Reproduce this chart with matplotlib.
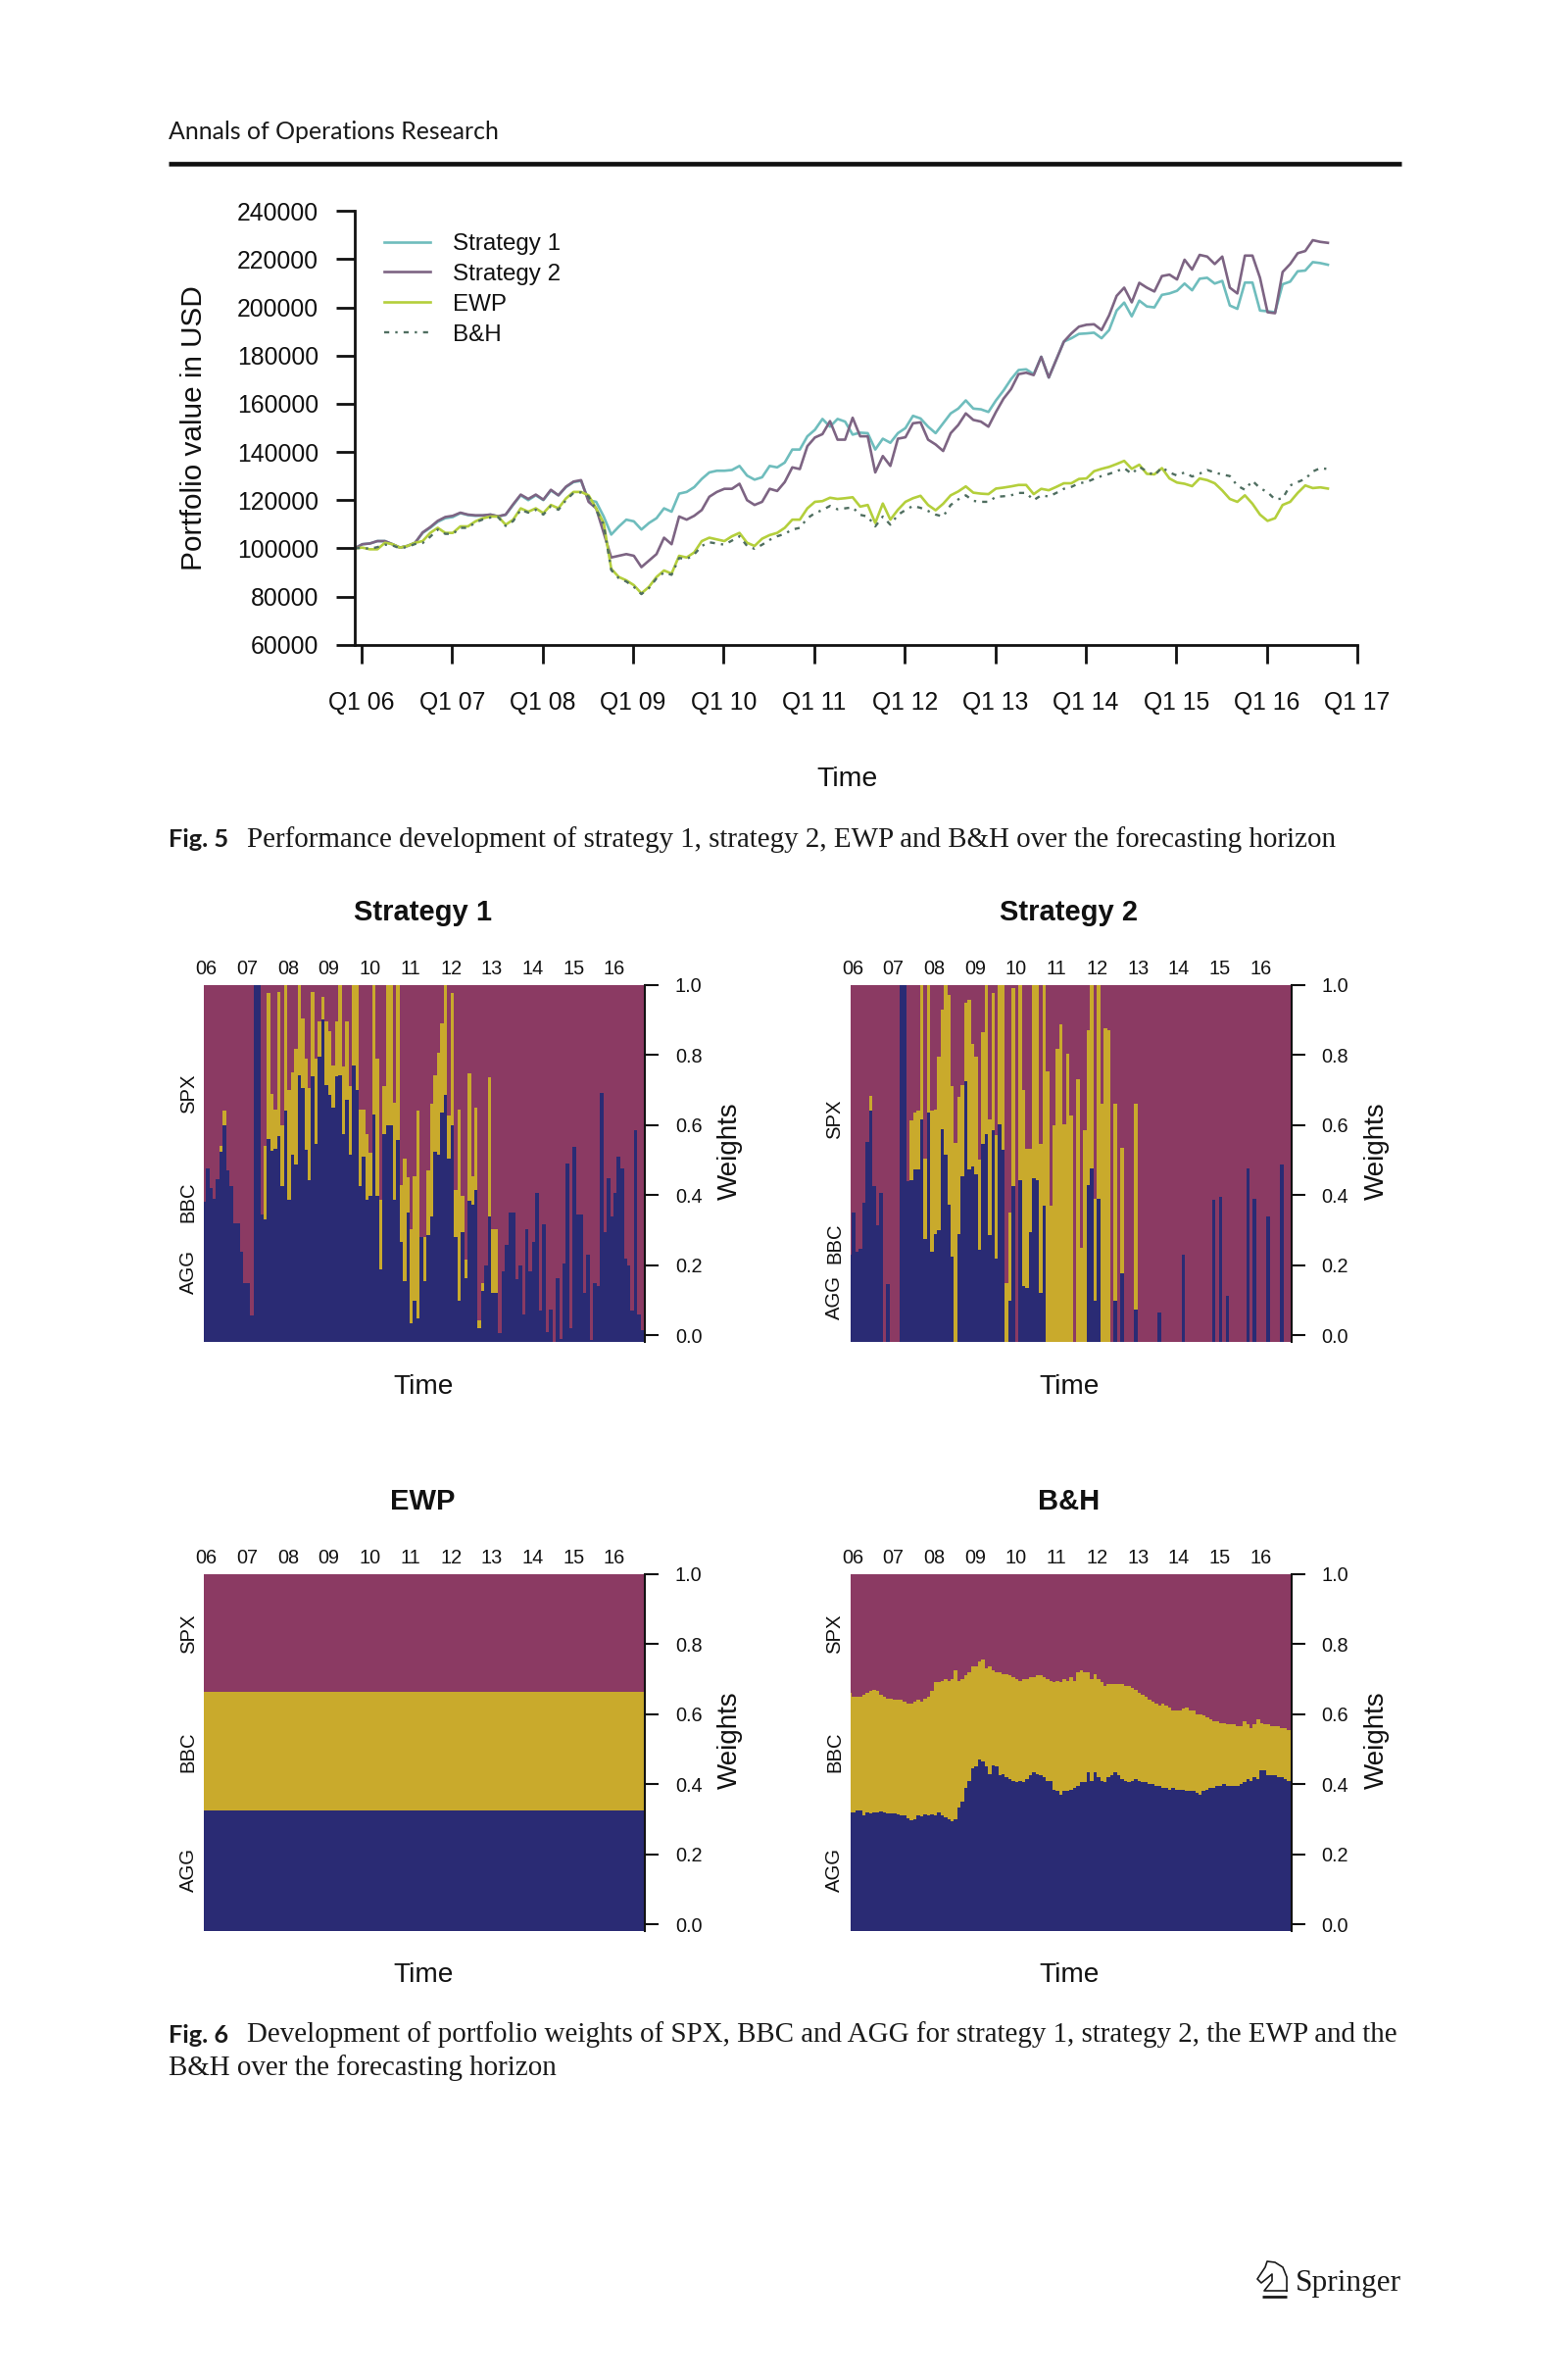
import numpy as np
import matplotlib
matplotlib.use("Agg")
import matplotlib.pyplot as plt
from matplotlib.lines import Line2D

W, H = 1600, 2426
plt.rcParams['font.family'] = ['Liberation Sans', 'DejaVu Sans']

# Portfolio values, thousands of USD, monthly
STRATEGY_1 = [
 100,101.7,102,103,103,101.7,100.3,101,102.3,106.4,
 108.5,111,112.5,113,114.6,113.8,113.5,113.6,114,113.2,
 113.9,118,122,120,122,120,124,122,125.4,127.5,
 128,120,119.3,113.2,105.7,109,111.9,111.2,107.8,110.5,
 112.5,116.6,115.2,122.7,123.4,125.4,128.8,131.5,132.2,132.2,
 132.5,134.2,130.2,128.5,129.5,134.2,133.6,135.6,141,141,
 146.5,149.2,153.7,150.5,153.7,152.6,147.2,148,147.8,141,
 145.5,143.8,147.8,149.9,155,153.9,150.5,147.8,151.9,156,
 158,161.4,158,157.7,156.6,161.4,165.5,170.2,174,174.3,
 172.3,179.5,170.9,178.4,185.8,187.2,189,189.2,189.5,187.2,
 190.6,198.7,202,196.3,202.8,200.4,200,205.2,205.8,206.9,
 209.9,207.1,211.9,212.3,209.9,211,200.8,199.4,210.3,210.3,
 198.7,198.4,198,209.6,210.7,215,215.3,218.8,218.4,217.7]
STRATEGY_2 = [
 100,101.7,102,103,103,101.7,100.3,101,102.3,106.6,
 108.8,111.4,113,113.5,114.8,114,113.7,113.7,114,113.3,
 114,118.3,122.3,120.5,122.3,120.2,124.3,122,125.6,127.7,
 128.3,119.3,116.6,106.4,96.2,96.9,97.6,96.9,92.2,94.9,
 97.6,104.4,101.7,113.2,111.9,113.5,115.9,121.4,123.4,124.7,
 124.7,126.8,120,118,119.3,124.7,123.8,127.5,133.6,132.9,
 142.4,146,147.4,152.8,145.1,145.1,154.2,146.5,146.5,131.5,
 138.3,134.2,145.5,146.1,151.9,152.3,145.1,143.1,140.4,147.8,
 151.2,156,153.3,152.6,150.5,156.6,162.1,166.1,172.3,172.9,
 171.9,179.5,170.9,178.4,185.8,189.2,192,192.8,193,190.6,
 196.7,204.8,208.2,202.1,210.2,208.2,206.6,213,213.6,211.6,
 219.8,215.7,221.8,221.1,218,221.1,208.2,205.8,221.5,221.5,
 212.3,198,197.6,214.7,218,222.5,223.4,227.9,227.2,226.8]
EWP = [
 100,100.3,99.6,99.6,102.3,101.7,100.3,101,102.3,103,
 106.4,108.5,106.4,106.4,109.1,109.1,111.2,112.5,113.2,113.2,
 109.8,111.9,116.6,115.2,116.6,114.6,118,116.6,120.7,123.4,
 123.4,122,116.6,110.5,91.5,88.1,86.7,84.7,81.3,84,
 88.1,90.8,89.5,96.9,96.2,98.3,103,104.4,103.7,103,
 105,106.4,102.3,101,104,105.5,106.4,108.5,111.9,111.9,
 116.6,119.3,119.6,121,120.5,120.8,121.2,117.3,118,110.5,
 118.6,111.9,116,119.3,120.8,121.8,118,115.8,118.5,122,
 123.6,125.7,123.1,122.7,122.5,124.8,125.2,125.7,126.3,126.3,
 122.5,124.7,124.1,125.5,127,127,128.8,129,132,133,
 133.8,135,136.3,133,134.7,130.9,130.7,133.3,129,127.3,
 126.8,125.8,129,128.3,127,124,120.5,119.3,122,118.5,
 114,111.4,112.5,118,119.3,123,126.1,125,125.3,124.8]
BUY_HOLD = [
 100,100.2,99.8,100.5,101.5,101.2,100,100.6,101.8,102.2,
 104.8,107.8,106,106,108.5,108.5,110.8,112,112.8,113,
 109.3,111.3,116,114.8,116,114,117.5,116,120,123,
 123.2,121.5,116,109.8,91,87.6,86.2,84,81,83.5,
 87.5,90,89,96,95.5,97.5,101,102.5,102,101.5,
 103.2,105,101,99.8,101.5,103.5,105,106,107.8,108.5,
 112.5,114.6,115.9,117.6,116.2,116.6,117,113.9,113.2,109.1,
 113.2,109.8,113.9,115.9,117.6,116.8,115.5,114,113.2,118,
 120.3,122,119.7,119.3,119.3,121.4,121.6,122,123,123,
 120,122,121.5,123,124.7,125.5,127,127.5,128.8,130,
 130.9,132,133.3,130.9,133.8,132,130.2,133.6,131.5,130.2,
 131.5,129.8,131,132.5,131.5,130.6,130,126,124.3,128,
 125,123.3,120.3,120.7,126.1,127.5,128.8,131.9,133.3,132.9]

LINE_LABELS = ['Strategy 1', 'Strategy 2', 'EWP', 'B&H']
Y_TICKS = [60000,80000,100000,120000,140000,160000,180000,200000,220000,240000]
Q_LABELS = ['Q1 06','Q1 07','Q1 08','Q1 09','Q1 10','Q1 11','Q1 12','Q1 13','Q1 14','Q1 15','Q1 16','Q1 17']
YEAR_LABELS = ['06','07','08','09','10','11','12','13','14','15','16']
WEIGHT_TICKS = [0.0,0.2,0.4,0.6,0.8,1.0]

# Stacked weights: top of AGG, and top of AGG+BBC (the rest up to 1 is SPX)
S1_AGG = [
 .38,.477,.42,.39,.445,.525,.60,.47,.425,.32,
 .32,.24,.15,.15,.057,1,1,.345,.332,.56,
 .527,.532,.568,.425,.64,.388,.514,.486,.742,.705,
 .528,.444,.738,.546,.794,.90,.714,.686,.65,.738,
 .742,.574,.672,.514,.77,.70,.425,.51,.388,.397,
 .63,.397,.187,.574,.598,.598,.388,.556,.267,.155,
 .35,.034,.10,.048,.28,.155,.285,.34,.523,.514,
 .635,.686,.505,.60,.28,.10,.295,.164,.383,.374,
 .416,.02,.127,.20,.34,.122,.122,.006,.183,.257,
 .35,.35,.16,.20,.06,.304,.183,.267,.407,.07,
 .318,.01,.075,-.017,.164,-.01,.206,.49,.02,.537,
 .346,.346,.122,.23,-.013,.15,.14,.69,.295,.449,
 .34,.407,.51,.477,.22,.20,.07,.584,.06,.015]
S1_TOP = [
 .38,.477,.42,.39,.445,.54,.64,.47,.425,.32,
 .32,.24,.15,.15,.057,1,1,.345,.54,.975,
 .688,.645,.98,.60,1,.70,.75,.817,1,.905,
 .79,.705,.98,.79,.895,.966,.895,.868,.77,.896,
 1,.766,.896,.71,1,1,.644,.644,.574,.52,
 1,.79,.388,.71,1,1,.663,1,.43,.505,
 .45,.304,.453,.64,.28,.28,.47,.66,.742,.807,
 .89,1,.626,.975,.415,.644,.397,.215,.746,.453,
 .649,.043,.15,.20,.737,.304,.304] + S1_AGG[87:]
S2_AGG = [
 .23,.35,.239,.248,.379,.551,.64,.425,.313,.407,
 -.017,.146,-.017,-.017,-.017,1,1,.44,.444,.472,
 .472,.617,.276,.635,.239,.29,.30,.589,.514,.374,
 .225,-.017,.29,.453,.724,.472,.481,.458,.243,.547,
 .575,.285,.584,.22,.603,.528,-.017,.10,.425,-.017,
 .444,.14,.136,.295,.449,.444,.122,.37,-.017,-.017,
 -.017,-.017,-.017,-.017,-.017,-.017,-.017,-.017,-.017,-.017,
 .43,.475,.10,.39,-.017,-.017,-.017,-.017,.10,-.017,
 .177,-.017,-.017,-.017,.073,-.017,-.017,-.017,-.017,-.017,
 -.017,.066,-.017,-.017,-.017,-.017,-.017,-.017,.23,-.017,
 -.017,-.017,-.017,-.017,-.017,-.017,-.017,.387,-.017,.394,
 -.017,.114,-.017,-.017,-.017,-.017,-.017,.476,-.017,.39,
 -.017,-.017,-.017,.34,-.017,-.017,-.017,.487,-.017,-.017]
S2_TOP = [
 .23,.35,.239,.248,.379,.551,.682,.425,.313,.407,
 -.017,.146,-.017,-.017,-.017,1,1,.44,.612,.635,
 .64,1,.505,1,.64,.645,.794,.93,1,.97,
 .71,.55,.68,.714,.948,.957,.83,.794,.50,.864,
 1,.617,.975,.57,1,1,.15,.35,.99,-.017,
 1,.70,.533,.533,1,1,.547,1,.752,.37,
 .60,.817,.887,.603,.803,.626,-.017,.73,.25,.584,
 .87,1,.39,1,.66,.875,.87,-.017,.66,-.017,
 .534,-.017,-.017,-.017,.66] + S2_AGG[85:]
EWP_AGG = [.325]*130
EWP_TOP = [.663]*130
BH_AGG = [
 .32,.32,.325,.325,.31,.32,.318,.32,.32,.322,
 .32,.318,.318,.316,.315,.31,.31,.303,.298,.30,
 .31,.308,.313,.31,.315,.31,.32,.31,.305,.30,
 .295,.30,.335,.35,.39,.41,.445,.45,.47,.465,
 .45,.43,.455,.45,.425,.43,.42,.415,.41,.405,
 .41,.405,.415,.425,.435,.43,.425,.42,.41,.41,
 .385,.38,.37,.38,.38,.385,.39,.395,.405,.405,
 .435,.41,.435,.42,.41,.405,.42,.425,.435,.425,
 .415,.41,.405,.41,.415,.41,.405,.405,.40,.40,
 .395,.395,.39,.39,.385,.39,.385,.385,.385,.38,
 .38,.38,.375,.37,.38,.385,.39,.39,.395,.395,
 .40,.395,.395,.395,.395,.40,.405,.415,.41,.42,
 .415,.44,.44,.425,.425,.425,.42,.42,.415,.41]
BH_TOP = [
 .66,.65,.65,.65,.655,.66,.665,.67,.665,.655,
 .65,.645,.645,.64,.64,.64,.635,.63,.63,.635,
 .64,.635,.645,.65,.665,.69,.69,.695,.70,.695,
 .70,.725,.695,.70,.71,.72,.735,.735,.75,.755,
 .73,.735,.725,.72,.72,.715,.715,.71,.705,.70,
 .695,.70,.70,.705,.705,.71,.71,.705,.70,.695,
 .69,.695,.69,.70,.695,.705,.695,.72,.725,.72,
 .72,.70,.715,.70,.69,.68,.685,.685,.685,.685,
 .685,.68,.68,.675,.67,.66,.655,.65,.64,.635,
 .63,.625,.63,.625,.62,.61,.61,.61,.615,.62,
 .61,.61,.60,.60,.595,.59,.585,.58,.58,.575,
 .575,.57,.57,.57,.565,.565,.58,.57,.56,.57,
 .585,.575,.57,.57,.565,.565,.565,.56,.56,.555]

C_SPX, C_BBC, C_AGG = '#8b3a63', '#c9aa2c', '#2a2b74'
C_S1, C_S2, C_EWP, C_BH = '#6fbdbd', '#7d6483', '#b4cf3c', '#4f6e60'
SERIF = ['Liberation Serif', 'DejaVu Serif']
INK = '#1a1a1a'

fig = plt.figure(figsize=(W/100, H/100), dpi=100, facecolor='white')

def box(l, t, r, b):
    return fig.add_axes([l/W, 1-b/H, (r-l)/W, (b-t)/H])

def ptext(x, y, s, **kw):
    kw.setdefault('ha', 'center'); kw.setdefault('va', 'center')
    return fig.text(x/W, 1-y/H, s, **kw)

def pline(xs, ys, **kw):
    fig.add_artist(Line2D([x/W for x in xs], [1-y/H for y in ys], **kw))

# header and captions
ptext(172, 135, 'Annals of Operations Research', ha='left', family=['Lato'], fontsize=17.9, color=INK)
pline([172, 1430], [167.3, 167.3], color='#111111', lw=3.4, solid_capstyle='butt')
ptext(172, 857, 'Fig. 5', ha='left', family=['Lato'], fontweight='bold', fontsize=18.3, color=INK)
ptext(252, 857, 'Performance development of strategy 1, strategy 2, EWP and B&H over the forecasting horizon',
      ha='left', family=SERIF, fontsize=20.85, color=INK)
ptext(172, 2076, 'Fig. 6', ha='left', family=['Lato'], fontweight='bold', fontsize=18.3, color=INK)
ptext(252, 2076, 'Development of portfolio weights of SPX, BBC and AGG for strategy 1, strategy 2, the EWP and the',
      ha='left', family=SERIF, fontsize=20.85, color=INK)
ptext(172, 2110, 'B&H over the forecasting horizon', ha='left', family=SERIF, fontsize=20.85, color=INK)
ptext(1322, 2337, 'Springer', ha='left', va='baseline', family=SERIF, fontsize=22.5, color=INK)
# publisher mark: outline of the knight above a rule
pline([1288, 1313], [2342.7, 2342.7], color=INK, lw=2, solid_capstyle='butt')
pline([1313, 1313, 1309, 1301, 1293, 1291, 1283, 1287, 1292, 1298, 1298, 1290, 1313],
      [2337, 2323, 2313, 2308, 2307, 2313, 2325, 2329, 2325, 2320, 2327, 2337, 2337],
      color=INK, lw=1.2, solid_joinstyle='round')

# Figure 5 line chart
ax = box(362, 215.3, 1385, 657.7)
t = np.arange(len(STRATEGY_1))
ax.plot(t, np.array(STRATEGY_1)*1000, color=C_S1, lw=1.9, label=LINE_LABELS[0])
ax.plot(t, np.array(STRATEGY_2)*1000, color=C_S2, lw=1.9, label=LINE_LABELS[1])
ax.plot(t, np.array(EWP)*1000, color=C_EWP, lw=1.9, label=LINE_LABELS[2])
ax.plot(t, np.array(BUY_HOLD)*1000, color=C_BH, lw=1.7, ls=(0, (2.2, 2.6, 1, 2.6)), label=LINE_LABELS[3])
ax.set_xlim(0, 132.9)
ax.set_ylim(60000, 240000)
ax.set_yticks(Y_TICKS)
ax.set_xticks([0.9 + 12*k for k in range(len(Q_LABELS))])
ax.set_xticklabels(Q_LABELS)
ax.tick_params(axis='y', length=13.7, width=2, pad=13, labelsize=17.8, color='#111111', labelcolor='#111111')
ax.tick_params(axis='x', length=13.7, width=2, pad=20, labelsize=17.8, color='#111111', labelcolor='#111111')
for s in ('top', 'right'):
    ax.spines[s].set_visible(False)
for s in ('left', 'bottom'):
    ax.spines[s].set_linewidth(2)
    ax.spines[s].set_color('#111111')
ax.patch.set_alpha(0)
ax.legend(loc='upper left', bbox_to_anchor=((392-362)/(1385-362), 1-(238-215.3)/(657.7-215.3)), frameon=False,
          fontsize=17.4, handlelength=1.94, handletextpad=0.95, labelspacing=0.37, borderaxespad=0, borderpad=0,
          labelcolor='#111111')
ptext(865, 795, 'Time', fontsize=20.5, color='#111111')
ptext(198, 437, 'Portfolio value in USD', rotation=90, fontsize=21.4, color='#111111')

# Figure 6 weight panels
def weights(l, t, title, agg, top, lab_y):
    r, b = l + 450, t + 364
    a = box(l, t, r, b)
    x = np.arange(len(agg))
    base = -0.017
    agg, top = np.array(agg), np.array(top)
    a.bar(x, np.full(len(x), 1 - base), bottom=base, width=1.03, color=C_SPX, lw=0)
    a.bar(x, top - base, bottom=base, width=1.03, color=C_BBC, lw=0)
    a.bar(x, agg - base, bottom=base, width=1.03, color=C_AGG, lw=0)
    a.set_xlim(0, 129.8)
    a.set_ylim(base, 1.0)
    a.set_xticks([0.7 + 12*k for k in range(len(YEAR_LABELS))])
    a.set_xticklabels(YEAR_LABELS)
    a.tick_params(axis='x', length=0, bottom=False, top=False, labelbottom=False, labeltop=True,
                  pad=4.5, labelsize=14.3, labelcolor='#111111')
    a.yaxis.tick_right()
    a.set_yticks(WEIGHT_TICKS)
    a.set_yticklabels(['%.1f' % v for v in WEIGHT_TICKS])
    a.tick_params(axis='y', length=10, width=1.5, pad=12, labelsize=14.3, color='#111111', labelcolor='#111111')
    for s in ('top', 'left', 'bottom'):
        a.spines[s].set_visible(False)
    a.spines['right'].set_bounds(base, 1.0)
    a.spines['right'].set_linewidth(1.5)
    a.spines['right'].set_color('#111111')
    ptext(l + 223, t - 73.5, title, fontweight='bold', fontsize=21, color='#111111')
    ptext(l + 223.5, t + 410, 'Time', fontsize=20.2, color='#111111')
    ptext(l + 537, t + 170, 'Weights', rotation=90, fontsize=20, color='#111111')
    for name, yy in zip(('SPX', 'BBC', 'AGG'), lab_y):
        ptext(l - 16, yy, name, rotation=90, fontsize=14.6, color='#111111')

weights(208.3, 1004.5, 'Strategy 1', S1_AGG, S1_TOP, (1116, 1226, 1298))
weights(867.7, 1004.5, 'Strategy 2', S2_AGG, S2_TOP, (1142, 1268.6, 1324))
weights(208.3, 1605.5, 'EWP', EWP_AGG, EWP_TOP, (1667, 1787, 1908))
weights(867.7, 1605.5, 'B&H', BH_AGG, BH_TOP, (1667, 1787, 1908))

fig.savefig('out.png', dpi=100)
